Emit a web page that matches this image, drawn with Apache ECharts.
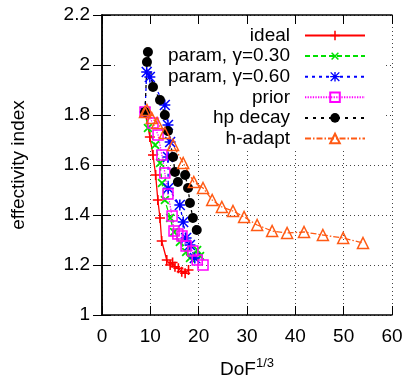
<!DOCTYPE html>
<html>
<head>
<meta charset="utf-8">
<script src="https://cdn.jsdelivr.net/npm/echarts@6/dist/echarts.min.js"></script>
<style>
  html, body { margin: 0; padding: 0; background: #fff; }
  #chart { width: 408px; height: 377px; }
</style>
</head>
<body>
<div id="chart"></div>
<script>
// x = DoF^(1/3), y = effectivity index
const ideal = [[8.9, 1.812], [9.9, 1.712], [10.55, 1.64], [11.1, 1.56], [11.55, 1.46], [12.0, 1.388],
  [12.35, 1.296], [13.4, 1.22], [14.1, 1.2], [14.6, 1.21], [15.1, 1.193], [15.8, 1.187],
  [16.5, 1.173], [17.2, 1.167], [17.9, 1.18]];
const param30 = [[8.9, 1.812], [9.5, 1.748], [11.0, 1.68], [12.0, 1.608], [12.4, 1.528], [13.0, 1.46],
  [14.1, 1.388], [14.9, 1.332], [16.1, 1.292], [17.4, 1.252], [18.2, 1.228], [19.7, 1.26], [20.3, 1.236]];
const param60 = [[8.9, 1.812], [9.25, 1.972], [9.9, 1.952], [13.0, 1.84], [13.65, 1.76], [14.1, 1.692],
  [13.65, 1.632], [13.7, 1.507], [16.1, 1.44], [16.8, 1.372], [17.4, 1.308], [18.2, 1.28], [19.2, 1.228]];
const prior = [[8.9, 1.812], [10.55, 1.768], [11.6, 1.72], [12.4, 1.64], [13.0, 1.568], [13.65, 1.484],
  [14.5, 1.396], [14.9, 1.336], [15.7, 1.324], [16.55, 1.316], [17.4, 1.276], [18.8, 1.256],
  [19.7, 1.22], [20.9, 1.2]];
const hpDecay = [[8.9, 1.812], [9.3, 2.012], [9.5, 2.052], [10.55, 1.912], [12.0, 1.86], [13.0, 1.8],
  [13.65, 1.736], [14.7, 1.632], [15.1, 1.572], [15.7, 1.532], [17.2, 1.56], [17.8, 1.508],
  [18.2, 1.448], [18.8, 1.388], [19.6, 1.34]];
const hAdapt = [[8.9, 1.812], [9.3, 1.82], [10.3, 1.788], [11.4, 1.768], [13.0, 1.728], [14.7, 1.68],
  [16.8, 1.608], [19.0, 1.532], [20.9, 1.508], [22.8, 1.46], [24.8, 1.432], [27.1, 1.416],
  [29.4, 1.392], [32.1, 1.36], [35.2, 1.336], [38.3, 1.328], [41.8, 1.332], [45.7, 1.32],
  [49.9, 1.308], [54.0, 1.288]];

const FONT = 'Liberation Sans';
const plus = 'path://M4.2,0L5.8,0L5.8,10L4.2,10ZM0,4.2L10,4.2L10,5.8L0,5.8Z';
const star = 'path://M4.3,0L5.7,0L5.7,10L4.3,10ZM0,4.3L10,4.3L10,5.7L0,5.7Z' +
  'M0,1L1,0L10,9L9,10ZM9,0L10,1L1,10L0,9Z';

function line(name, data, color, dash, symbol, size, opts) {
  return Object.assign({
    name, type: 'line', data,
    symbol, symbolSize: size,
    lineStyle: { color, width: 1.3, type: dash },
    itemStyle: { color },
    animation: false
  }, opts || {});
}

const chart = echarts.init(document.getElementById('chart'));
chart.setOption({
  animation: false,
  grid: { left: 102, right: 16, top: 15, bottom: 62, outerBoundsMode: 'none' },
  graphic: [{
    type: 'rect', z: 1,
    shape: { x: 118, y: 16, width: 266, height: 134 },
    style: { fill: '#fff' }
  }],
  legend: {
    orient: 'vertical', right: 37, top: 21,
    align: 'right', itemWidth: 60, itemHeight: 12, itemGap: 1.6,
    textStyle: { fontFamily: FONT, fontSize: 19, color: '#000', lineHeight: 19, width: 175, padding: [0, 10, 0, 0] },
    data: ['ideal', 'param, γ=0.30', 'param, γ=0.60', 'prior', 'hp decay', 'h-adapt']
  },
  xAxis: [{
    type: 'value', min: 0, max: 60, interval: 10,
    name: '{a|DoF}{b|1/3}', nameLocation: 'middle', nameGap: 42,
    nameTextStyle: {
      rich: {
        a: { fontFamily: FONT, fontSize: 19, color: '#000' },
        b: { fontFamily: FONT, fontSize: 13, color: '#000', padding: [0, 0, 12, 0] }
      }
    },
    axisLine: { lineStyle: { color: '#000', width: 1.5 } },
    axisTick: { inside: true, length: 9, lineStyle: { color: '#000' } },
    axisLabel: { margin: 12, fontFamily: FONT, fontSize: 19, color: '#000' },
    splitLine: { show: true, lineStyle: { color: '#444', type: [1, 3] } }
  }, {
    type: 'value', position: 'top', min: 0, max: 60, interval: 10, z: 3,
    axisLine: { lineStyle: { color: '#000', width: 1.5 } },
    axisTick: { inside: true, length: 9, lineStyle: { color: '#000' } },
    axisLabel: { show: false }, splitLine: { show: false }
  }],
  yAxis: [{
    type: 'value', min: 1, max: 2.2, interval: 0.2,
    name: 'effectivity index', nameLocation: 'middle', nameGap: 74,
    nameTextStyle: { fontFamily: FONT, fontSize: 19, color: '#000' },
    axisLine: { show: true, lineStyle: { color: '#000', width: 1.5 } },
    axisTick: { show: true, inside: true, length: 9, lineStyle: { color: '#000' } },
    axisLabel: { margin: 12, fontFamily: FONT, fontSize: 19, color: '#000' },
    splitLine: { show: true, lineStyle: { color: '#444', type: [1, 3] } }
  }, {
    type: 'value', position: 'right', min: 1, max: 2.2, interval: 0.2, z: 3,
    axisLine: { show: true, lineStyle: { color: '#000', width: 1.5 } },
    axisTick: { show: true, inside: true, length: 9, lineStyle: { color: '#000' } },
    axisLabel: { show: false }, splitLine: { show: false }
  }],
  series: [
    line('ideal', ideal, '#ff0000', 'solid', plus, 10),
    line('param, γ=0.30', param30, '#00e000', [5, 3], plus, 11, { symbolRotate: 45 }),
    line('param, γ=0.60', param60, '#0000ff', [3, 4], star, 11),
    line('prior', prior, '#ff00ff', [1.3, 1.3], 'rect', 10,
      { itemStyle: { color: 'rgba(0,0,0,0)', borderColor: '#ff00ff', borderWidth: 1.5 } }),
    line('hp decay', hpDecay, '#000000', [3, 5], 'circle', 10),
    line('h-adapt', hAdapt, '#ff5a14', [6, 2, 1.5, 2], 'triangle', 11,
      { itemStyle: { color: 'rgba(0,0,0,0)', borderColor: '#ff5a14', borderWidth: 1.5 } })
  ]
});
</script>
</body>
</html>
